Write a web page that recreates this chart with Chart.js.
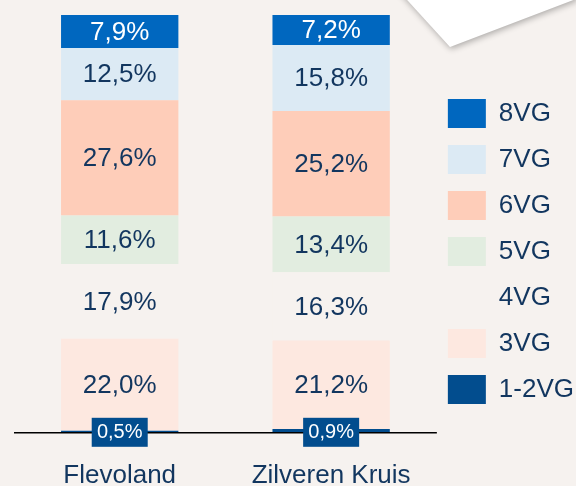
<!DOCTYPE html>
<html>
<head>
<meta charset="utf-8">
<script src="https://cdn.jsdelivr.net/npm/chart.js@4"></script>
<style>
  html, body { margin: 0; padding: 0; background: #f6f2ef; }
  #wrap { width: 576px; height: 486px; }
</style>
</head>
<body>
<div id="wrap"><canvas id="vgChart" width="576" height="486"></canvas></div>
<script>
// categorieen en aandelen per VG-klasse (in %), van onder naar boven
const regions = ["Flevoland", "Zilveren Kruis"];
const vg12 = [0.5, 0.9];
const vg3 = [22.0, 21.2];
const vg4 = [17.9, 16.3];
const vg5 = [11.6, 13.4];
const vg6 = [27.6, 25.2];
const vg7 = [12.5, 15.8];
const vg8 = [7.9, 7.2];

const navy = "#12365f";
const bg = "#f6f2ef";

const fmt = v => v.toFixed(1).replace(".", ",") + "%";

// witte vorm rechtsboven
const cornerShape = {
  id: "cornerShape",
  beforeDraw(chart) {
    const ctx = chart.ctx;
    ctx.save();
    ctx.shadowColor = "rgba(0,0,0,0.3)";
    ctx.shadowBlur = 6;
    ctx.shadowOffsetX = 1;
    ctx.shadowOffsetY = 2;
    ctx.fillStyle = "#ffffff";
    ctx.beginPath();
    ctx.moveTo(398, -10);
    ctx.lineTo(450, 47);
    ctx.lineTo(576, -1);
    ctx.lineTo(576, -10);
    ctx.closePath();
    ctx.fill();
    ctx.restore();
  }
};

// legenda iets dichter tegen de grafiek en wat hoger
const legendNudge = {
  id: "legendNudge",
  afterLayout(chart) {
    const lg = chart.legend;
    lg.left -= 6;
    lg.right -= 6;
    lg.top -= 15;
    lg.bottom -= 15;
  }
};

// x-as lijn
const baseLine = {
  id: "baseLine",
  afterDatasetsDraw(chart) {
    const { ctx, chartArea } = chart;
    const y = chart.scales.y.getPixelForValue(0);
    ctx.save();
    ctx.strokeStyle = "#000000";
    ctx.lineWidth = 1.5;
    ctx.beginPath();
    ctx.moveTo(chartArea.left, y);
    ctx.lineTo(chartArea.right, y);
    ctx.stroke();
    ctx.restore();
  }
};

// waarden in de segmenten
const segmentLabels = {
  id: "segmentLabels",
  afterDatasetsDraw(chart) {
    const ctx = chart.ctx;
    ctx.save();
    ctx.textAlign = "center";
    ctx.textBaseline = "middle";
    chart.data.datasets.forEach((ds, i) => {
      const meta = chart.getDatasetMeta(i);
      meta.data.forEach((bar, j) => {
        const v = ds.data[j];
        const y = (bar.y + bar.base) / 2;
        if (ds.label === "1-2VG") {
          ctx.fillStyle = ds.backgroundColor;
          ctx.fillRect(bar.x - 28, bar.base - 15, 56, 29);
          ctx.fillStyle = "#ffffff";
          ctx.font = "20px 'Liberation Sans', Arial, sans-serif";
          ctx.fillText(fmt(v), bar.x, bar.base - 0.5);
        } else {
          ctx.fillStyle = ds.label === "8VG" ? "#ffffff" : navy;
          ctx.font = "26px 'Liberation Sans', Arial, sans-serif";
          ctx.fillText(fmt(v), bar.x, y + 1);
        }
      });
    });
    ctx.restore();
  }
};

new Chart(document.getElementById("vgChart"), {
  type: "bar",
  data: {
    labels: regions,
    datasets: [
      { label: "1-2VG", data: vg12, backgroundColor: "#024d8e" },
      { label: "3VG", data: vg3, backgroundColor: "#fde8e0" },
      { label: "4VG", data: vg4, backgroundColor: bg },
      { label: "5VG", data: vg5, backgroundColor: "#e2ede0" },
      { label: "6VG", data: vg6, backgroundColor: "#fecdb9" },
      { label: "7VG", data: vg7, backgroundColor: "#dceaf4" },
      { label: "8VG", data: vg8, backgroundColor: "#0067bf" }
    ]
  },
  options: {
    responsive: false,
    animation: false,
    layout: { padding: { left: 14, top: 15, right: -14, bottom: -32 } },
    datasets: { bar: { categoryPercentage: 1, barPercentage: 0.555 } },
    scales: {
      x: {
        stacked: true,
        grid: { display: false, drawTicks: false },
        border: { display: false },
        ticks: {
          color: navy,
          padding: 27,
          font: { family: "'Liberation Sans', Arial, sans-serif", size: 26 }
        }
      },
      y: { stacked: true, display: false, min: 0, max: 100 }
    },
    plugins: {
      tooltip: { enabled: false },
      legend: {
        position: "right",
        reverse: true,
        labels: {
          boxWidth: 38,
          boxHeight: 29,
          padding: 17,
          color: navy,
          font: { family: "'Liberation Sans', Arial, sans-serif", size: 26 }
        }
      }
    }
  },
  plugins: [cornerShape, legendNudge, baseLine, segmentLabels]
});
</script>
</body>
</html>
